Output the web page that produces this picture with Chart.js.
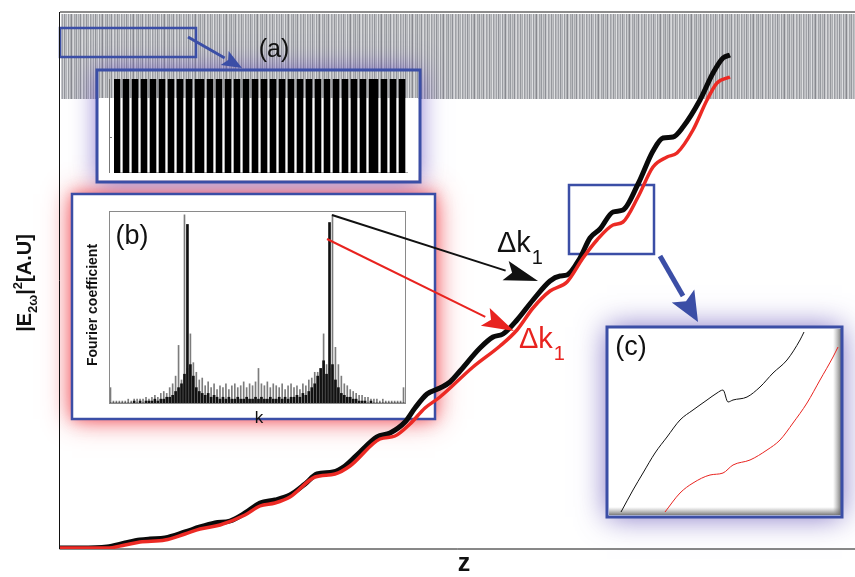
<!DOCTYPE html>
<html lang="en">
<head>
<meta charset="UTF-8">
<title>SHG intensity along z</title>
<script src="https://cdn.jsdelivr.net/npm/chart.js"></script>
<style>
  html, body { margin: 0; padding: 0; background: #fff; }
  #main { display: block; }
  /* inset charts are rendered here, then copied into the main figure */
  #offscreen { position: absolute; left: -3000px; top: 0; }
</style>
</head>
<body>
<canvas id="main" width="855" height="577"></canvas>
<div id="offscreen">
  <canvas id="insetA" width="294" height="94"></canvas>
  <canvas id="insetB" width="296" height="192"></canvas>
  <canvas id="insetC" width="230" height="184"></canvas>
</div>
<script>
// main curves: z (a.u.) and |E2w|^2 (a.u.)
const blackZ = [0,20,47,65,80,90,105,125,140,155,170,185,200,215,230,245,257,273,285,300,317,330,345,355,367,380,390,400,420,433,443,457,473,490,500,507,520,530,540,553,563,578,593,603,613,623,640,653,663,670];
const blackI = [1,1,2,6,9,10,11,17,22,26,28,36,46,49,54,65,75,77,83,97,112,116,127,141,155,161,167,178,201,212,215,229,249,268,273,274,291,311,320,337,339,365,398,411,412,422,449,476,491,494];
const redZ = [0,47,65,80,105,125,140,160,185,200,215,230,255,275,290,320,335,350,365,380,413,440,457,473,490,507,523,537,553,563,578,593,607,617,633,647,657,670];
const redI = [1,1,4,7,9,15,20,24,34,43,46,52,72,75,83,110,113,125,141,152,182,203,219,241,258,267,291,309,324,327,352,382,392,396,419,449,466,472];

// inset (a): domain orientation per cell (1 = inverted domain)
const domains = [1,1,0,1,1,0,1,1,0,1,1,0,1,1,0,1,1,0,1,1,0,1,1,0,1,1,0,
  1,1,1,0,
  1,1,0,1,1,0,1,1,0,1,1,0,1,1,0,1,1,0,1,1,0,1,1,0,1,1,0,
  1,1,0,1,1,0,1,1,0,1,1,0,1,1,0,1,1,0,1,1,0,1,1,0,1,1,0,
  1,1,1,0,
  1,1,0,1,1,0,1,1,0];

// inset (b): Fourier coefficients (% of max), two structures
const fourierGray = [
  8,1,1,1,1,1,2,1,2,2,
  2,2,3,2,3,4,3,5,6,5,
  8,10,14,30,12,98,18,36,21,16,
  12,13,9,11,8,10,7,9,8,10,
  7,9,10,8,9,11,8,10,9,11,
  18,10,9,11,8,10,9,8,10,7,
  9,10,8,9,7,10,9,12,13,16,
  16,14,36,20,18,98,29,20,14,10,
  9,7,6,5,4,4,3,3,2,2,
  2,1,2,1,1,1,1,1,1,8];
const fourierBlack = [
  0,0,0,0,0,0,0,0,1,0,
  1,0,1,1,1,2,1,2,2,3,
  3,4,6,8,10,15,93,20,14,8,
  6,5,4,5,3,4,3,2,3,2,
  3,2,2,3,2,2,3,2,2,3,
  2,3,2,2,3,2,2,3,2,3,
  2,3,3,4,3,5,4,6,8,10,
  14,18,22,15,94,20,12,8,5,4,
  3,3,2,2,1,1,1,0,1,0,
  0,0,0,0,0,0,0,0,0,0];

// inset (c): zoom of the boxed region
const cBlackX = [11,23,33,45,57,70,83,97,107,113,118,123,137,150,163,177,190,194];
const cBlackY = [2,24,41,61,77,94,104,114,121,124,112,114,117,127,141,154,174,182];
const cRedX = [55,70,83,100,113,123,140,157,170,183,197,210,223,228];
const cRedY = [2,21,31,39,41,49,54,64,74,91,111,134,157,167];

// shades of the poled-crystal stripe band
const bandShades = ['#c4c5c9','#a1a3a8','#d2d3d6','#92949a','#bdbec2','#b2b4b8','#dcdde0','#9a9ca1','#c9cacd','#aeb0b4',
  '#88898f','#c3c4c7','#d6d7da','#a4a6aa','#babbbf','#979a9f','#cfd0d3','#aaacb0','#c1c2c5','#8e9096',
  '#c7c8cc','#d8d9db','#a0a2a7','#b7b8bc','#cdced1','#95979c','#bfc0c3','#acaeb2','#dedfe1','#9c9ea3','#bbbcc0'];

Chart.defaults.font.family = "'Liberation Sans', Arial, sans-serif";
const blue = '#3b4ea6';
const toXY = (xs, ys) => xs.map((x, i) => ({ x: x, y: ys[i] }));

const insetBase = {
  responsive: false,
  animation: false,
  devicePixelRatio: 1,
  layout: { padding: 0 },
  plugins: { legend: { display: false }, tooltip: { enabled: false } }
};

const chartA = new Chart(document.getElementById('insetA'), {
  type: 'bar',
  data: {
    labels: domains.map((d, i) => i),
    datasets: [{ data: domains, backgroundColor: '#000', barPercentage: 1, categoryPercentage: 1 }]
  },
  options: { ...insetBase, scales: { x: { display: false }, y: { display: false, min: 0, max: 1 } } }
});

const chartB = new Chart(document.getElementById('insetB'), {
  type: 'bar',
  data: {
    labels: fourierGray.map((d, i) => i),
    datasets: [
      { data: fourierBlack, backgroundColor: '#111', barThickness: 2, grouped: false, order: 1 },
      { data: fourierGray, backgroundColor: '#7c7c7c', barThickness: 1, grouped: false, order: 2 }
    ]
  },
  options: { ...insetBase, scales: { x: { display: false }, y: { display: false, min: 0, max: 100 } } }
});

const chartC = new Chart(document.getElementById('insetC'), {
  type: 'line',
  data: {
    datasets: [
      { data: toXY(cBlackX, cBlackY), borderColor: '#111', borderWidth: 1, pointRadius: 0, cubicInterpolationMode: 'monotone' },
      { data: toXY(cRedX, cRedY), borderColor: '#e8231f', borderWidth: 1, pointRadius: 0, cubicInterpolationMode: 'monotone' }
    ]
  },
  options: { ...insetBase, scales: {
    x: { type: 'linear', display: false, min: 0, max: 230 },
    y: { display: false, min: 0, max: 184 } } }
});

function glow(ctx, x, y, w, h, color, blur, W, H) {
  ctx.save();
  ctx.beginPath();
  ctx.rect(0, 0, W, H);
  ctx.rect(x, y, w, h);
  ctx.clip('evenodd');
  ctx.shadowColor = color;
  ctx.shadowBlur = blur;
  ctx.fillStyle = '#fff';
  ctx.fillRect(x, y, w, h);
  ctx.restore();
}

function arrow(ctx, x1, y1, x2, y2, color, lw, headLen, headW) {
  const a = Math.atan2(y2 - y1, x2 - x1);
  const bx = x2 - headLen * Math.cos(a), by = y2 - headLen * Math.sin(a);
  ctx.strokeStyle = color;
  ctx.lineWidth = lw;
  ctx.beginPath(); ctx.moveTo(x1, y1); ctx.lineTo(bx, by); ctx.stroke();
  ctx.fillStyle = color;
  ctx.beginPath();
  ctx.moveTo(x2, y2);
  ctx.lineTo(bx + headW / 2 * Math.sin(a), by - headW / 2 * Math.cos(a));
  ctx.lineTo(x2 - headLen * 0.8 * Math.cos(a), y2 - headLen * 0.8 * Math.sin(a));
  ctx.lineTo(bx - headW / 2 * Math.sin(a), by + headW / 2 * Math.cos(a));
  ctx.closePath(); ctx.fill();
}

function deltaK(ctx, x, y, color) {
  ctx.fillStyle = color;
  ctx.textBaseline = 'alphabetic';
  ctx.textAlign = 'left';
  ctx.font = "29px 'Liberation Sans', Arial, sans-serif";
  ctx.fillText('\u0394k', x, y);
  const w = ctx.measureText('\u0394k').width;
  ctx.font = "20px 'Liberation Sans', Arial, sans-serif";
  ctx.fillText('1', x + w + 1, y + 12);
}

const figureDecor = {
  id: 'figureDecor',
  beforeDraw(chart) {
    const ctx = chart.ctx, W = chart.width, H = chart.height;
    const { left, right, top, bottom } = chart.chartArea;
    ctx.save();
    ctx.fillStyle = '#fff';
    ctx.fillRect(0, 0, W, H);

    // stripe band (domain structure) at the top of the plot
    for (let x = left + 1, i = 0; x < right; x++, i++) {
      ctx.fillStyle = bandShades[i % bandShades.length];
      ctx.fillRect(x, top + 1, 1, 85);
    }

    // glows around insets
    glow(ctx, 72, 194, 363, 225, 'rgba(240,40,50,0.8)', 26, W, H);
    glow(ctx, 72, 194, 363, 225, 'rgba(240,60,70,0.5)', 12, W, H);
    glow(ctx, 97, 70, 323, 112, 'rgba(95,70,190,0.75)', 24, W, H);
    glow(ctx, 607, 327, 235, 190, 'rgba(80,60,175,0.75)', 28, W, H);

    // inset (b) body
    ctx.fillStyle = '#fff';
    ctx.fillRect(72, 194, 363, 225);
    ctx.drawImage(chartB.canvas, 109, 211);
    ctx.strokeStyle = '#8a8a8a';
    ctx.lineWidth = 1;
    ctx.strokeRect(109.5, 211.5, 296, 192);

    // inset (a) body (transparent at top, band shows through)
    ctx.fillStyle = '#fff';
    ctx.fillRect(99, 98, 319, 82);
    ctx.drawImage(chartA.canvas, 114, 79);
    ctx.strokeStyle = '#777';
    ctx.beginPath(); ctx.moveTo(109.5, 79); ctx.lineTo(109.5, 173); ctx.moveTo(109, 137.5); ctx.lineTo(112, 137.5); ctx.stroke();

    // inset (c) body with bevel shading
    ctx.fillStyle = '#fff';
    ctx.fillRect(607, 327, 235, 190);
    let g = ctx.createLinearGradient(0, 507, 0, 515);
    g.addColorStop(0, 'rgba(140,140,140,0)');
    g.addColorStop(1, 'rgba(100,100,100,0.85)');
    ctx.fillStyle = g;
    ctx.fillRect(609, 507, 231, 8);
    g = ctx.createLinearGradient(833, 0, 841, 0);
    g.addColorStop(0, 'rgba(140,140,140,0)');
    g.addColorStop(1, 'rgba(100,100,100,0.85)');
    ctx.fillStyle = g;
    ctx.fillRect(833, 329, 8, 186);
    ctx.drawImage(chartC.canvas, 610, 330);

    // blue frames
    ctx.strokeStyle = blue;
    ctx.lineWidth = 3;
    ctx.strokeRect(97, 70, 323, 112);
    ctx.strokeRect(607, 327, 235, 190);
    ctx.lineWidth = 2.5;
    ctx.strokeRect(72, 194, 363, 225);
    ctx.strokeRect(60, 28, 136, 29);
    ctx.strokeRect(569, 185, 85, 69);

    // plot frame
    ctx.strokeStyle = '#666';
    ctx.lineWidth = 1.5;
    ctx.beginPath(); ctx.moveTo(left, top - 1); ctx.lineTo(right, top - 1); ctx.stroke();
    ctx.strokeStyle = '#111';
    ctx.lineWidth = 1;
    ctx.beginPath(); ctx.moveTo(left - 0.5, top - 1); ctx.lineTo(left - 0.5, bottom); ctx.lineTo(right, bottom); ctx.stroke();
    ctx.restore();
  },
  afterDatasetsDraw(chart) {
    const ctx = chart.ctx;
    ctx.save();
    // arrows
    arrow(ctx, 188, 37, 242, 68, blue, 3, 20, 16);
    arrow(ctx, 660, 256, 698, 322, blue, 5, 30, 26);
    arrow(ctx, 332, 215, 538, 281, '#111', 2, 34, 20);
    arrow(ctx, 327, 239, 514, 331, '#e8231f', 2, 32, 20);

    // labels
    ctx.fillStyle = '#111';
    ctx.textBaseline = 'middle';
    ctx.textAlign = 'center';
    ctx.font = "25px 'Liberation Sans', Arial, sans-serif";
    ctx.fillText('(a)', 274, 50);
    ctx.font = "27px 'Liberation Sans', Arial, sans-serif";
    ctx.fillText('(b)', 132, 237);
    ctx.fillText('(c)', 631, 348);
    ctx.font = "17px 'Liberation Sans', Arial, sans-serif";
    ctx.fillText('k', 259, 418);

    ctx.save();
    ctx.translate(93, 305);
    ctx.rotate(-Math.PI / 2);
    ctx.font = "bold 14px 'Liberation Sans', Arial, sans-serif";
    ctx.fillText('Fourier coefficient', 0, 0);
    ctx.restore();

    deltaK(ctx, 497, 252, '#111');
    deltaK(ctx, 519, 348, '#e8231f');

    // axis titles
    ctx.fillStyle = '#111';
    ctx.textAlign = 'center';
    ctx.textBaseline = 'alphabetic';
    ctx.font = "bold 25px 'Liberation Sans', Arial, sans-serif";
    ctx.fillText('z', 464, 571);

    const parts = [
      { t: '|E', f: "bold 20px 'Liberation Sans', Arial, sans-serif", dy: 0 },
      { t: '2\u03c9', f: "bold 13px 'Liberation Sans', Arial, sans-serif", dy: 6 },
      { t: '|', f: "bold 20px 'Liberation Sans', Arial, sans-serif", dy: 0 },
      { t: '2', f: "bold 13px 'Liberation Sans', Arial, sans-serif", dy: -9 },
      { t: '[A.U]', f: "bold 20px 'Liberation Sans', Arial, sans-serif", dy: 0 }
    ];
    let total = 0;
    parts.forEach(p => { ctx.font = p.f; p.w = ctx.measureText(p.t).width; total += p.w; });
    ctx.translate(31, 283);
    ctx.rotate(-Math.PI / 2);
    ctx.textAlign = 'left';
    let px = -total / 2;
    parts.forEach(p => { ctx.font = p.f; ctx.fillText(p.t, px, p.dy); px += p.w; });
    ctx.restore();
  }
};

new Chart(document.getElementById('main'), {
  type: 'line',
  data: {
    datasets: [
      { data: toXY(blackZ, blackI), borderColor: '#0a0a0a', borderWidth: 5, pointRadius: 0, cubicInterpolationMode: 'monotone', order: 2 },
      { data: toXY(redZ, redI), borderColor: '#ec2a24', borderWidth: 3.5, pointRadius: 0, cubicInterpolationMode: 'monotone', order: 1 }
    ]
  },
  options: {
    responsive: false,
    animation: false,
    devicePixelRatio: 1,
    layout: { padding: { left: 60, top: 13, right: 0, bottom: 28 } },
    plugins: { legend: { display: false }, tooltip: { enabled: false } },
    scales: {
      x: { type: 'linear', display: false, min: 0, max: 795 },
      y: { display: false, min: 0, max: 536 }
    }
  },
  plugins: [figureDecor]
});
</script>
</body>
</html>
